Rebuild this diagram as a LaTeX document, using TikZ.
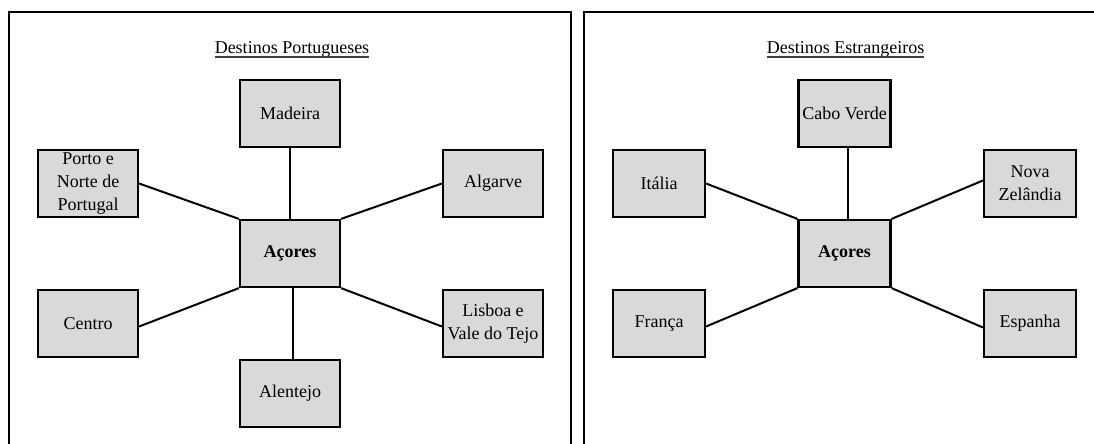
\documentclass[tikz,border=0pt]{standalone}
\usepackage{fontspec}
\setmainfont{Liberation Serif}
\definecolor{boxgray}{HTML}{D9D9D9}
\definecolor{rulegray}{HTML}{404040}
\begin{document}
\begin{tikzpicture}[x=1pt,y=-1pt,
  every node/.append style={font=\fontsize{18}{23}\selectfont},
  place/.style={draw=black, line width=2.2pt, fill=boxgray,
    minimum width=100pt, minimum height=67pt, inner sep=0pt, align=center},
  placeR/.style={place, minimum width=92pt},
  link/.style={line width=2pt},
  frame/.style={line width=2.2pt},
  heading/.style={inner sep=0pt, anchor=base},
  headrule/.style={line width=1.3pt, rulegray}]

\useasboundingbox (0,0) rectangle (1094,444);
\fill[white] (0,0) rectangle (1094,444);

% panel frames
\draw[frame] (9,444) -- (9,12) -- (571,12) -- (571,444);
\draw[frame] (584,444) -- (584,12) -- (1094,12);

% left panel: Portuguese destinations
\node[heading] (titleL) at (292,53) {Destinos Portugueses};
\draw[headrule] ([yshift=-4pt]titleL.base west) -- ([yshift=-4pt]titleL.base east);

\node[place] (madeira)  at (290,113.5) {Madeira};
\node[place] (porto)    at (88,183.5)  {Porto e\\Norte de\\Portugal};
\node[place] (algarve)  at (493,183.5) {Algarve};
\node[place] (acoresL)  at (290,253.5) {\bfseries Açores};
\node[place] (centro)   at (88,323.5)  {Centro};
\node[place] (lisboa)   at (493,323.5) {Lisboa e\\Vale do Tejo};
\node[place] (alentejo) at (290,393.5) {Alentejo};

\draw[link] (madeira.south) -- (acoresL.north);
\draw[link] (porto.east) -- (acoresL.north west);
\draw[link] (algarve.west) -- (acoresL.north east);
\draw[link] ([yshift=-3pt]centro.east) -- (acoresL.south west);
\draw[link] ([yshift=-3pt]lisboa.west) -- (acoresL.south east);
\draw[link] ([xshift=3pt]acoresL.south) -- ([xshift=3pt]alentejo.north);

% right panel: foreign destinations
\node[heading] (titleR) at (845.5,53) {Destinos Estrangeiros};
\draw[headrule] ([yshift=-4pt]titleR.base west) -- ([yshift=-4pt]titleR.base east);

\node[placeR] (caboverde) at (844.5,113.5) {Cabo Verde};
\node[placeR] (italia)    at (659,183.5)   {Itália};
\node[placeR] (novaz)     at (1030,183.5)  {Nova\\Zelândia};
\node[placeR] (acoresR)   at (844.5,253.5) {\bfseries Açores};
\node[placeR] (franca)    at (659,323.5)   {França};
\node[placeR] (espanha)   at (1030,323.5)  {Espanha};

\draw[link] ([xshift=3.5pt]caboverde.south) -- ([xshift=3.5pt]acoresR.north);
\draw[link] (italia.east) -- (acoresR.north west);
\draw[link] ([yshift=3pt]novaz.west) -- (acoresR.north east);
\draw[link] ([yshift=-3pt]franca.east) -- (acoresR.south west);
\draw[link] ([yshift=-4pt]espanha.west) -- (acoresR.south east);
\end{tikzpicture}
\end{document}
